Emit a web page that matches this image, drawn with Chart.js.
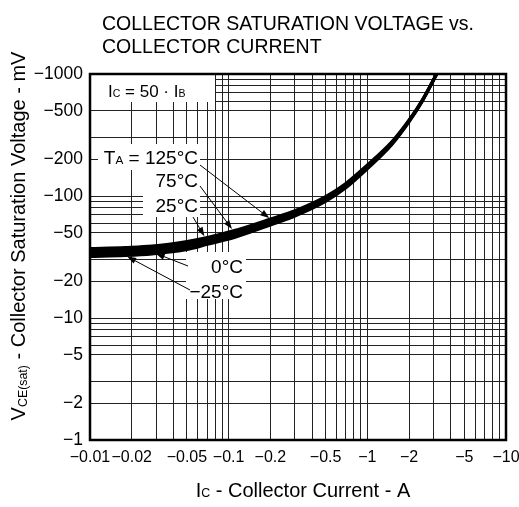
<!DOCTYPE html>
<html><head><meta charset="utf-8">
<script src="https://cdn.jsdelivr.net/npm/chart.js@4/dist/chart.umd.min.js"></script>
<style>html,body{margin:0;padding:0;background:#fff;}#wrap{width:519px;height:507px;}</style>
</head><body><div id="wrap"><canvas id="c" width="519" height="507"></canvas></div>
<script>
// ---- data (magnitudes; axis labels carry the minus sign) ----
const currents = [0.01, 0.018, 0.028, 0.05, 0.07, 0.11, 0.2, 0.3, 0.5, 0.7, 1, 1.5, 2, 2.5, 3, 3.4]; // |IC| in A
const vce125 = [37.1, 37.9, 38.9, 42.4, 45.7, 52.1, 64.8, 75.8, 99.1, 126.9, 179.6, 278.0, 419.8, 617.6, 901.5, 1188.2]; // |VCE(sat)| mV
const vce75  = [35.7, 36.5, 37.5, 40.8, 44.2, 50.4, 63.0, 73.9, 96.8, 124.2, 176.3, 274.0, 415.9, 613.3, 897.3, 1182.6];
const vce25  = [34.4, 35.1, 36.1, 39.3, 42.8, 48.8, 61.2, 72.0, 94.5, 121.6, 173.0, 270.2, 412.0, 609.0, 893.0, 1177.0];
const vce0   = [33.1, 33.8, 34.8, 37.8, 41.4, 47.2, 59.5, 70.2, 92.3, 119.0, 169.8, 266.4, 408.1, 604.7, 888.7, 1171.4];
const vceM25 = [31.9, 32.5, 33.5, 36.4, 40.1, 45.7, 57.8, 68.4, 90.1, 116.5, 166.6, 262.7, 404.3, 600.5, 884.6, 1165.9];
const seriesNames = ['125°C', '75°C', '25°C', '0°C', '−25°C'];

const xTickValues = [0.01, 0.02, 0.05, 0.1, 0.2, 0.5, 1, 2, 5, 10];
const xTickLabels = ['−0.01', '−0.02', '−0.05', '−0.1', '−0.2', '−0.5', '−1', '−2', '−5', '−10'];
const yTickValues = [1, 2, 5, 10, 20, 50, 100, 200, 500, 1000];
const yTickLabels = ['−1', '−2', '−5', '−10', '−20', '−50', '−100', '−200', '−500', '−1000'];
const xGridValues = [0.01,0.02,0.03,0.04,0.05,0.06,0.07,0.08,0.09,
                     0.1,0.2,0.3,0.4,0.5,0.6,0.7,0.8,0.9,
                     1,2,3,4,5,6,7,8,9,10];
const yGridValues = [1,2,3,5,6,7,8,9,10,20,30,50,60,70,80,90,100,200,300,500,600,700,800,900,1000];

const FONT = "'Liberation Sans', Arial, Helvetica, sans-serif";
const seriesValues = [vce125, vce75, vce25, vce0, vceM25];

function labelFor(v, vals, labels) {
  const i = vals.findIndex(t => Math.abs(t - v) / t < 1e-6);
  return i >= 0 ? labels[i] : '';
}

function drawRich(ctx, parts, x, y, size, align) {
  const sub = size * 0.62;
  const ws = parts.map(p => { ctx.font = (p[1] ? sub : size) + 'px ' + FONT; return ctx.measureText(p[0]).width; });
  const total = ws.reduce((a, b) => a + b, 0);
  let cx = align === 'right' ? x - total : align === 'center' ? x - total / 2 : x;
  ctx.textAlign = 'left';
  ctx.textBaseline = 'alphabetic';
  parts.forEach((p, i) => {
    ctx.font = (p[1] ? sub : size) + 'px ' + FONT;
    ctx.fillText(p[0], cx, y + (p[1] ? (p[2] || 0) : 0));
    cx += ws[i];
  });
}

function arrow(ctx, x0, y0, x1, y1, gap) {
  const dx = x1 - x0, dy = y1 - y0, L = Math.hypot(dx, dy);
  const ux = dx / L, uy = dy / L;
  const tx = x1 - ux * gap, ty = y1 - uy * gap;
  const hl = 9, hw = 3.2;
  ctx.strokeStyle = '#000'; ctx.lineWidth = 1;
  ctx.beginPath(); ctx.moveTo(x0, y0); ctx.lineTo(tx - ux * hl * 0.8, ty - uy * hl * 0.8); ctx.stroke();
  ctx.fillStyle = '#000';
  ctx.beginPath();
  ctx.moveTo(tx, ty);
  ctx.lineTo(tx - ux * hl - uy * hw, ty - uy * hl + ux * hw);
  ctx.lineTo(tx - ux * hl + uy * hw, ty - uy * hl - ux * hw);
  ctx.closePath(); ctx.fill();
}

const annot = {
  id: 'annot',
  beforeDatasetsDraw(chart) {
    const ctx = chart.ctx, ca = chart.chartArea;
    ctx.save();
    ctx.fillStyle = '#fff';
    ctx.fillRect(ca.left, ca.top, 125, 28);          // IC = 50·IB box
    ctx.fillRect(ca.left + 8, ca.top + 70, 102, 26); // TA = 125°C
    ctx.fillRect(ca.left + 53, ca.top + 96, 57, 47); // 75 / 25
    ctx.fillRect(ca.left + 96, ca.top + 178, 60, 47); // 0 / -25
    ctx.restore();
  },
  afterDatasetsDraw(chart) {
    const ctx = chart.ctx, ca = chart.chartArea;
    ctx.save();
    ctx.fillStyle = '#000';
    drawRich(ctx, [['I'], ['C', true], [' = 50 · I'], ['B', true]], ca.left + 18, ca.top + 23, 17, 'left');
    drawRich(ctx, [['T'], ['A', true], [' = 125°C']], ca.left + 108, ca.top + 90, 19, 'right');
    drawRich(ctx, [['75°C']], ca.left + 108, ca.top + 113, 19, 'right');
    drawRich(ctx, [['25°C']], ca.left + 108, ca.top + 138, 19, 'right');
    drawRich(ctx, [['0°C']], ca.left + 153, ca.top + 199, 19, 'right');
    drawRich(ctx, [['−25°C']], ca.left + 153, ca.top + 224, 19, 'right');
    const pt = (d, i) => chart.getDatasetMeta(d).data[i];
    const tails = [[110, 91, 0, 6, 1.5], [110, 112, 1, 5, 4], [103, 143, 2, 4, 5.5], [98, 192, 3, 2, 4], [100, 216, 4, 1, 2]];
    tails.forEach(([tx, ty, d, i, g]) => { const p = pt(d, i); arrow(ctx, ca.left + tx, ca.top + ty, p.x, p.y, g); });
    ctx.strokeStyle = '#000'; ctx.lineWidth = 2.5;
    ctx.strokeRect(ca.left, ca.top, ca.right - ca.left, ca.bottom - ca.top);
    ctx.restore();
  },
  afterDraw(chart) {
    const ctx = chart.ctx;
    ctx.save();
    ctx.fillStyle = '#000';
    ctx.font = '19.5px ' + FONT; ctx.textAlign = 'left'; ctx.textBaseline = 'alphabetic';
    ctx.fillText('COLLECTOR SATURATION VOLTAGE vs.', 102, 30);
    ctx.fillText('COLLECTOR CURRENT', 102, 53);
    drawRich(ctx, [['I'], ['C', true], [' - Collector Current - A']], 303, 497, 20, 'center');
    ctx.translate(25, 236); ctx.rotate(-Math.PI / 2);
    drawRich(ctx, [['V'], ['CE(sat)', true, 2], [' - Collector Saturation Voltage - mV']], 0, 0, 20, 'center');
    ctx.restore();
  }
};

new Chart(document.getElementById('c'), {
  type: 'line',
  data: {
    datasets: seriesValues.map((vals, k) => ({
      label: seriesNames[k],
      data: currents.map((x, i) => ({ x: x, y: vals[i] })),
      borderColor: '#000', borderWidth: 3, pointRadius: 0,
      cubicInterpolationMode: 'monotone', fill: false
    }))
  },
  options: {
    responsive: false, animation: false,
    layout: { padding: { left: 0, right: 13, top: 74, bottom: 0 } },
    plugins: { legend: { display: false }, tooltip: { enabled: false }, title: { display: false } },
    scales: {
      x: {
        type: 'logarithmic', min: 0.01, max: 10,
        afterBuildTicks: s => { s.ticks = xGridValues.map(v => ({ value: v })); },
        afterFit: s => { s.height = 67; s.paddingLeft = 0; s.paddingRight = 0; },
        grid: { color: '#222', lineWidth: 1, drawTicks: false },
        border: { display: false },
        ticks: { autoSkip: false, maxRotation: 0, minRotation: 0, padding: 8, color: '#000',
          font: { family: FONT, size: 16 },
          callback: v => labelFor(v, xTickValues, xTickLabels) }
      },
      y: {
        type: 'logarithmic', min: 1, max: 1000,
        afterBuildTicks: s => { s.ticks = yGridValues.map(v => ({ value: v })); },
        afterFit: s => { s.width = 90; s.paddingTop = 0; s.paddingBottom = 0; },
        grid: { color: '#222', lineWidth: 1, drawTicks: false },
        border: { display: false },
        ticks: { autoSkip: false, padding: 7, color: '#000',
          font: { family: FONT, size: 17.5 },
          callback: v => labelFor(v, yTickValues, yTickLabels) }
      }
    }
  },
  plugins: [annot]
});
</script></body></html>
